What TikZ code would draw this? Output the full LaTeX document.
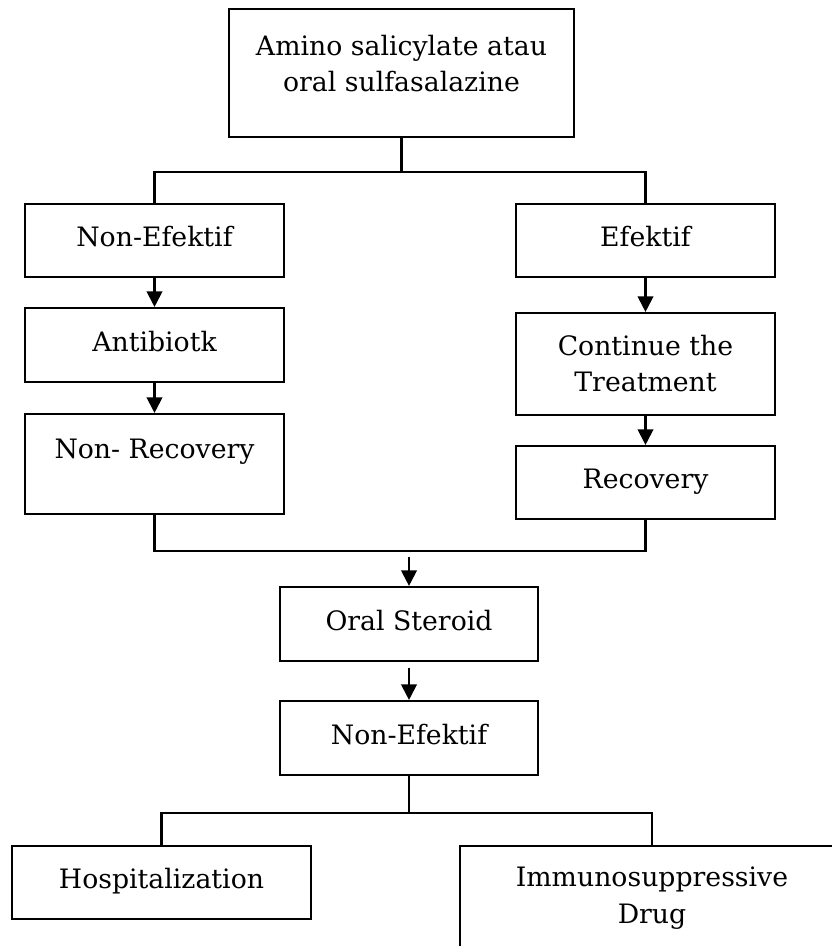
\documentclass[tikz,border=0pt]{standalone}
\usepackage{fontspec}
\setmainfont{DejaVu Serif}
\usepackage{tikz}
\usetikzlibrary{positioning, arrows.meta, calc}

\begin{document}
\begin{tikzpicture}[
  x=0.025cm, y=-0.025cm,
  font=\fontsize{19}{26}\selectfont,
  box/.style={draw, line width=1.5pt, inner sep=0pt, align=center,
    text height=14pt, text depth=5pt},
  twoline/.style={text height=40pt, text depth=#1},
  link/.style={line width=1.5pt},
  arrow/.style={-{Triangle[length=11pt, width=11pt]}, line width=1.5pt},
]
  \useasboundingbox (0,0) rectangle (832,946);
  \clip (0,0) rectangle (832,946);

  \node[box, twoline=13pt, minimum width=8.625cm, minimum height=3.2cm]
    (amino) at (401.5,73) {Amino salicylate atau\\oral sulfasalazine};

  % left branch
  \node[box, minimum width=6.475cm, minimum height=1.825cm] (noneff) at (154.5,240.5) {Non-Efektif};
  \node[box, minimum width=6.475cm, minimum height=1.85cm] (antib) at (154.5,345) {Antibiotk};
  \node[box, minimum width=6.475cm, minimum height=2.5cm, text depth=22.5pt]
    (nonrec) at (154.5,464) {Non- Recovery};

  % right branch
  \node[box, minimum width=6.475cm, minimum height=1.825cm] (eff) at (645.5,240.5) {Efektif};
  \node[box, twoline=0.5pt, minimum width=6.475cm, minimum height=2.55cm]
    (cont) at (645.5,364) {Continue the\\Treatment};
  \node[box, minimum width=6.475cm, minimum height=1.825cm] (rec) at (645.5,482.5) {Recovery};

  % lower part
  \node[box, minimum width=6.45cm, minimum height=1.85cm] (steroid) at (409,624) {Oral Steroid};
  \node[box, minimum width=6.45cm, minimum height=1.85cm] (noneff2) at (409,738) {Non-Efektif};
  \node[box, minimum width=7.475cm, minimum height=1.825cm] (hosp) at (161.5,882.5) {Hospitalization};
  \node[box, twoline=21.5pt, minimum width=9.6cm, minimum height=3.2cm]
    (immuno) at (652,910) {Immunosuppressive\\Drug};

  \draw[link] (amino.south) -- ++(0,34) coordinate (j1);
  \draw[link] (noneff.north) |- (j1) -| (eff.north);

  \foreach \a/\b in {noneff/antib, antib/nonrec, eff/cont, cont/rec}
    \draw[arrow] (\a) -- (\b);

  \draw[link] (nonrec.south) -- ++(0,36) coordinate (j2l) -| (rec.south);
  \coordinate (j2) at (steroid.north |- j2l);
  \draw[arrow, shorten <=4pt] (j2) -- (steroid.north);
  \draw[arrow, shorten <=4pt] (steroid) -- (noneff2);

  \draw[link] (noneff2.south) -- ++(0,37) coordinate (j3);
  \draw[link] (hosp.north) |- (j3) -| (immuno.north);
\end{tikzpicture}
\end{document}
